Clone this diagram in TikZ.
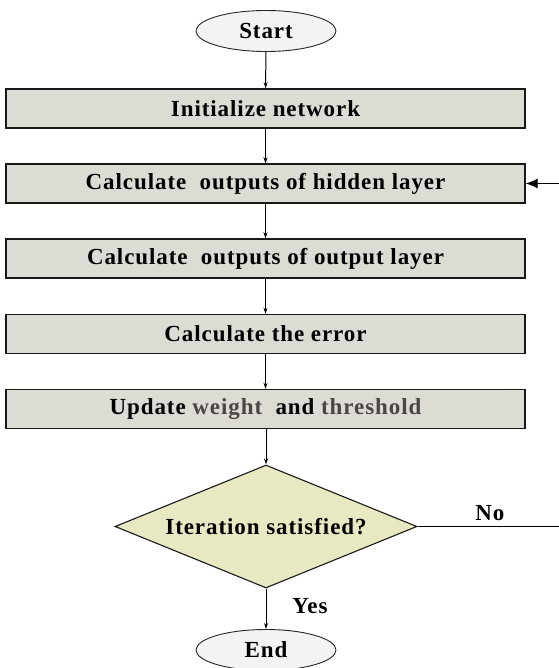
\documentclass[tikz,border=0pt]{standalone}
\usepackage{fontspec}
\setmainfont{Liberation Serif}
\usetikzlibrary{shapes.geometric,arrows.meta}
\definecolor{boxgray}{HTML}{DCDBD4}
\definecolor{diafill}{HTML}{E8E8C2}
\definecolor{ellfill}{HTML}{F3F3F3}
\definecolor{wordgray}{HTML}{4D4444}
\newcommand\flowfont{\fontsize{23}{27}\selectfont\bfseries\addfontfeatures{LetterSpace=4}}
\begin{document}
\begin{tikzpicture}[x=1pt,y=-1pt,
  stepbox/.style={draw=black!90,line width=1.4pt,fill=boxgray,minimum width=519pt,minimum height=39pt,inner sep=0pt,font=\flowfont},
  term/.style={ellipse,draw=black!85,line width=0.9pt,fill=ellfill,minimum width=140pt,minimum height=41pt,inner sep=0pt,font=\flowfont},
  decide/.style={diamond,aspect=2.455,draw=black!90,line width=1.1pt,fill=diafill,minimum width=302pt,minimum height=123pt,inner sep=0pt,font=\flowfont},
  conn/.style={draw=black,line width=1pt,-{Stealth[length=6pt,width=4pt]}},
  lbl/.style={font=\flowfont}]
\useasboundingbox (0,0) rectangle (558,668);
\node[term] (start) at (266,31) {Start};
\node[stepbox] (b1) at (265.5,108.5) {Initialize network};
\node[stepbox] (b2) at (265.5,183.5) {Calculate\ \ outputs of hidden layer};
\node[stepbox] (b3) at (265.5,258.5) {Calculate\ \ outputs of output layer};
\node[stepbox] (b4) at (265.5,334) {Calculate the error};
\node[stepbox] (b5) at (265.5,409) {Update \textcolor{wordgray}{weight}\ \ and \textcolor{wordgray}{threshold}};
\node[decide] (dia) at (266,526.5) {Iteration satisfied?};
\node[term] (end) at (266,650) {End};
\coordinate (fbA) at (559.5,526.5);
\draw[conn] (start) -- (b1);
\draw[conn] (b1) -- (b2);
\draw[conn] (b2) -- (b3);
\draw[conn] (b3) -- (b4);
\draw[conn] (b4) -- (b5);
\draw[conn] (b5.south -| dia.north) -- (dia.north);
\draw[conn] (dia.south) -- (end.north);
\draw[draw=black,line width=1pt,-{Latex[length=12pt,width=10pt]}] (dia.east) -- (fbA) |- (b2.east);
\node[lbl] (no) at (490,513) {No};
\node[lbl] (yes) at (310,606) {Yes};
\end{tikzpicture}
\end{document}
